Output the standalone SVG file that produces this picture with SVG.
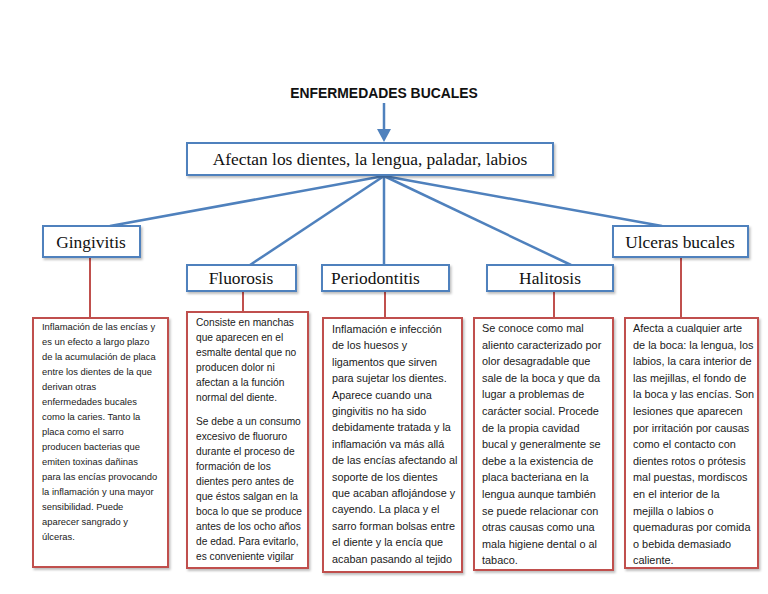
<svg xmlns="http://www.w3.org/2000/svg" width="768" height="594" viewBox="0 0 768 594">
<defs>
<style>
.title{font-family:"Liberation Sans",Arial,sans-serif;font-weight:bold;font-size:13.9px;fill:#111}
.lbl{font-family:"Liberation Serif","Times New Roman",serif;font-size:17.4px;fill:#111}
.nb{fill:#fff;stroke:#4f81bd;stroke-width:2}
.tb{fill:#fff;stroke:#c0504d;stroke-width:2}
.blue{stroke:#4f81bd;stroke-width:2.5;fill:none}
.red{stroke:#c0504d;stroke-width:2;fill:none}
.t{font-family:"Liberation Sans",Arial,sans-serif;fill:#1a1a1a}
</style>
<filter id="sh" x="-10%" y="-10%" width="130%" height="140%">
<feDropShadow dx="1.5" dy="2" stdDeviation="1.2" flood-color="#000" flood-opacity="0.25"/>
</filter>
</defs>
<rect width="768" height="594" fill="#fff"/>
<text class="title" x="384" y="98" text-anchor="middle">ENFERMEDADES BUCALES</text>
<g id="connectors">
<line class="blue" x1="384" y1="103" x2="384" y2="131" stroke-width="3"/>
<polygon points="377,129 391,129 384,142" fill="#4f81bd"/>
<line class="blue" x1="384" y1="176" x2="110" y2="226"/>
<line class="blue" x1="384" y1="176" x2="250" y2="265"/>
<line class="blue" x1="384" y1="176" x2="384" y2="265"/>
<line class="blue" x1="384" y1="176" x2="571" y2="265"/>
<line class="blue" x1="384" y1="176" x2="662" y2="226"/>
<line class="red" x1="90" y1="257" x2="90" y2="318"/>
<line class="red" x1="243" y1="291" x2="243" y2="312"/>
<line class="red" x1="385" y1="291" x2="385" y2="318"/>
<line class="red" x1="554" y1="291" x2="554" y2="318"/>
<line class="red" x1="681" y1="257" x2="681" y2="318"/>
</g>
<g id="main">
<rect class="nb" x="187" y="143" width="366" height="32" filter="url(#sh)"/>
<text class="lbl" x="370" y="165" text-anchor="middle">Afectan los dientes, la lengua, paladar, labios</text>
</g>
<g id="gingivitis">
<rect class="nb" x="43" y="226" width="97" height="31" filter="url(#sh)"/>
<text class="lbl" x="91" y="248" text-anchor="middle">Gingivitis</text>
</g>
<g id="fluorosis">
<rect class="nb" x="187" y="265" width="109" height="26" filter="url(#sh)"/>
<text class="lbl" x="241" y="284" text-anchor="middle">Fluorosis</text>
</g>
<g id="periodontitis">
<rect class="nb" x="322" y="265" width="127" height="26" filter="url(#sh)"/>
<text class="lbl" x="331" y="284">Periodontitis</text>
</g>
<g id="halitosis">
<rect class="nb" x="487" y="265" width="126" height="26" filter="url(#sh)"/>
<text class="lbl" x="550" y="284" text-anchor="middle">Halitosis</text>
</g>
<g id="ulceras">
<rect class="nb" x="613" y="226" width="135" height="31" filter="url(#sh)"/>
<text class="lbl" x="680" y="248" text-anchor="middle">Ulceras bucales</text>
</g>
<g id="desc-gingivitis">
<rect class="tb" x="33" y="318" width="135" height="249" filter="url(#sh)"/>
<text class="t" font-size="9.4" x="42" y="330">
<tspan x="42" dy="0">Inflamación de las encías y</tspan>
<tspan x="42" dy="15">es un efecto a largo plazo</tspan>
<tspan x="42" dy="15">de la acumulación de placa</tspan>
<tspan x="42" dy="15">entre los dientes de la que</tspan>
<tspan x="42" dy="15">derivan otras</tspan>
<tspan x="42" dy="15">enfermedades bucales</tspan>
<tspan x="42" dy="15">como la caries. Tanto la</tspan>
<tspan x="42" dy="15">placa como el sarro</tspan>
<tspan x="42" dy="15">producen bacterias que</tspan>
<tspan x="42" dy="15">emiten toxinas dañinas</tspan>
<tspan x="42" dy="15">para las encías provocando</tspan>
<tspan x="42" dy="15">la inflamación y una mayor</tspan>
<tspan x="42" dy="15">sensibilidad. Puede</tspan>
<tspan x="42" dy="15">aparecer sangrado y</tspan>
<tspan x="42" dy="15">úlceras.</tspan>
</text>
</g>
<g id="desc-fluorosis">
<rect class="tb" x="187" y="312" width="121" height="256" filter="url(#sh)"/>
<text class="t" font-size="10.2" x="196" y="326">
<tspan x="196" dy="0">Consiste en manchas</tspan>
<tspan x="196" dy="15">que aparecen en el</tspan>
<tspan x="196" dy="15">esmalte dental que no</tspan>
<tspan x="196" dy="15">producen dolor ni</tspan>
<tspan x="196" dy="15">afectan a la función</tspan>
<tspan x="196" dy="15">normal del diente.</tspan>
<tspan x="196" dy="24">Se debe a un consumo</tspan>
<tspan x="196" dy="15">excesivo de fluoruro</tspan>
<tspan x="196" dy="15">durante el proceso de</tspan>
<tspan x="196" dy="15">formación de los</tspan>
<tspan x="196" dy="15">dientes pero antes de</tspan>
<tspan x="196" dy="15">que éstos salgan en la</tspan>
<tspan x="196" dy="15">boca lo que se produce</tspan>
<tspan x="196" dy="15">antes de los ocho años</tspan>
<tspan x="196" dy="15">de edad. Para evitarlo,</tspan>
<tspan x="196" dy="15">es conveniente vigilar</tspan>
</text>
</g>
<g id="desc-periodontitis">
<rect class="tb" x="323" y="318" width="139" height="254" filter="url(#sh)"/>
<text class="t" font-size="10.8" x="332" y="333">
<tspan x="332" dy="0">Inflamación e infección</tspan>
<tspan x="332" dy="16.4">de los huesos y</tspan>
<tspan x="332" dy="16.4">ligamentos que sirven</tspan>
<tspan x="332" dy="16.4">para sujetar los dientes.</tspan>
<tspan x="332" dy="16.4">Aparece cuando una</tspan>
<tspan x="332" dy="16.4">gingivitis no ha sido</tspan>
<tspan x="332" dy="16.4">debidamente tratada y la</tspan>
<tspan x="332" dy="16.4">inflamación va más allá</tspan>
<tspan x="332" dy="16.4">de las encías afectando al</tspan>
<tspan x="332" dy="16.4">soporte de los dientes</tspan>
<tspan x="332" dy="16.4">que acaban aflojándose y</tspan>
<tspan x="332" dy="16.4">cayendo.  La placa y el</tspan>
<tspan x="332" dy="16.4">sarro forman bolsas entre</tspan>
<tspan x="332" dy="16.4">el diente y la encía que</tspan>
<tspan x="332" dy="16.4">acaban pasando al tejido</tspan>
</text>
</g>
<g id="desc-halitosis">
<rect class="tb" x="474" y="318" width="139" height="252" filter="url(#sh)"/>
<text class="t" font-size="10.9" x="482" y="332">
<tspan x="482" dy="0">Se conoce como mal</tspan>
<tspan x="482" dy="16.6">aliento caracterizado por</tspan>
<tspan x="482" dy="16.6">olor desagradable que</tspan>
<tspan x="482" dy="16.6">sale de la boca y que da</tspan>
<tspan x="482" dy="16.6">lugar a problemas de</tspan>
<tspan x="482" dy="16.6">carácter social. Procede</tspan>
<tspan x="482" dy="16.6">de la propia cavidad</tspan>
<tspan x="482" dy="16.6">bucal y generalmente se</tspan>
<tspan x="482" dy="16.6">debe a la existencia de</tspan>
<tspan x="482" dy="16.6">placa bacteriana en la</tspan>
<tspan x="482" dy="16.6">lengua aunque también</tspan>
<tspan x="482" dy="16.6">se puede relacionar con</tspan>
<tspan x="482" dy="16.6">otras causas como una</tspan>
<tspan x="482" dy="16.6">mala higiene dental o al</tspan>
<tspan x="482" dy="16.6">tabaco.</tspan>
</text>
</g>
<g id="desc-ulceras">
<rect class="tb" x="625" y="318" width="133" height="250" filter="url(#sh)"/>
<text class="t" font-size="10.9" x="633" y="332">
<tspan x="633" dy="0">Afecta a cualquier arte</tspan>
<tspan x="633" dy="16.6">de la boca: la lengua, los</tspan>
<tspan x="633" dy="16.6">labios, la cara interior de</tspan>
<tspan x="633" dy="16.6">las mejillas, el fondo de</tspan>
<tspan x="633" dy="16.6">la boca y las encías. Son</tspan>
<tspan x="633" dy="16.6">lesiones que aparecen</tspan>
<tspan x="633" dy="16.6">por irritación por causas</tspan>
<tspan x="633" dy="16.6">como el contacto con</tspan>
<tspan x="633" dy="16.6">dientes rotos o prótesis</tspan>
<tspan x="633" dy="16.6">mal puestas, mordiscos</tspan>
<tspan x="633" dy="16.6">en el interior de la</tspan>
<tspan x="633" dy="16.6">mejilla o labios o</tspan>
<tspan x="633" dy="16.6">quemaduras por comida</tspan>
<tspan x="633" dy="16.6">o bebida demasiado</tspan>
<tspan x="633" dy="16.6">caliente.</tspan>
</text>
</g>
</svg>
